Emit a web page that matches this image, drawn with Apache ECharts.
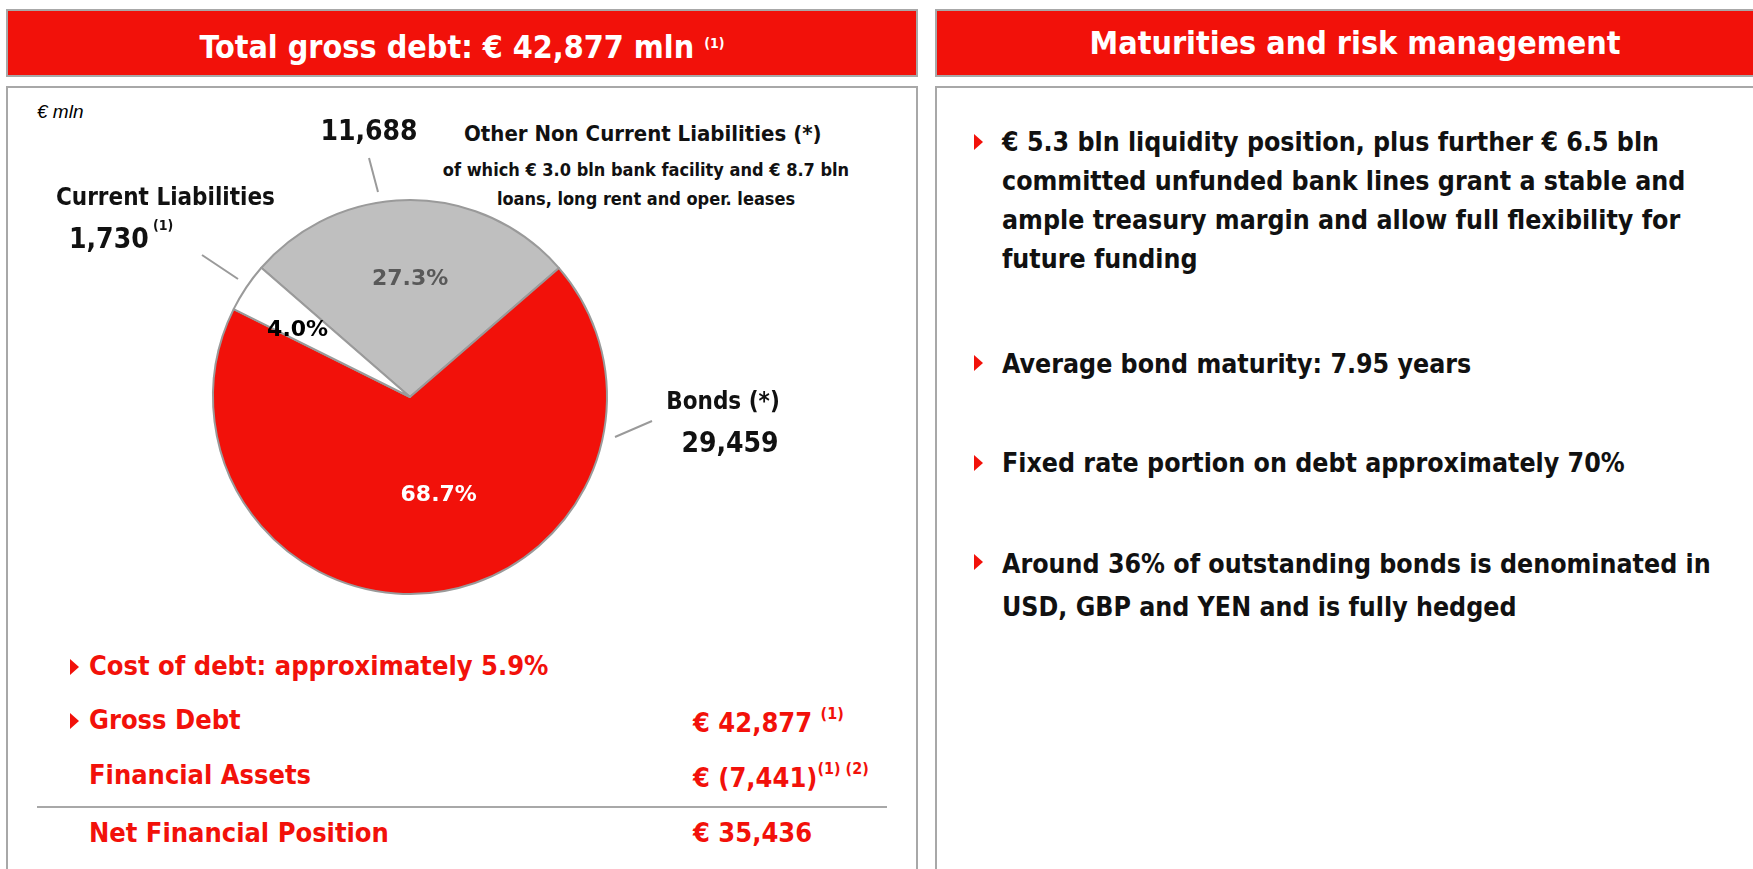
<!DOCTYPE html>
<html>
<head>
<meta charset="utf-8">
<script src="https://cdn.jsdelivr.net/npm/echarts@6/dist/echarts.min.js"></script>
<style>
  html, body { margin: 0; padding: 0; background: #fff; }
  body { width: 1753px; height: 869px; position: relative; overflow: hidden;
         font-family: "DejaVu Sans Condensed", "DejaVu Sans", sans-serif; font-weight: bold; }
  .hdr { position: absolute; background: #f2110a; border: 2px solid #a8a8a8; color: #fff;
         font-size: 32px; text-align: center; line-height: 64px; box-sizing: border-box; }
  .hdr sup { font-size: 14px; vertical-align: 10px; }
  .box { position: absolute; border: 2px solid #a8a8a8; box-sizing: border-box; }
  .t { position: absolute; white-space: nowrap; }
  .tri { position: absolute; width: 0; height: 0; border-top: 8px solid transparent;
         border-bottom: 8px solid transparent; border-left: 9px solid #f2110a; }
  .red { color: #f2110a; font-size: 27px; }
  .red sup { font-size: 16px; vertical-align: 13px; }
  .blk { color: #111; font-size: 26.5px; }
  #chart { position: absolute; left: 0; top: 0; width: 1753px; height: 869px; }
</style>
</head>
<body>
<div class="hdr" style="left:6px;top:9px;width:912px;height:68px;">Total gross debt: € 42,877 mln <sup>(1)</sup></div>
<div class="box" style="left:6px;top:86px;width:912px;height:800px;"></div>
<div class="hdr" style="left:935px;top:9px;width:840px;height:68px;">Maturities and risk management</div>
<div class="box" style="left:935px;top:86px;width:840px;height:800px;"></div>

<div class="t" style="left:37px;top:101px;font-size:19px;font-style:italic;font-weight:normal;font-family:'Liberation Sans','DejaVu Sans',sans-serif;">€ mln</div>
<div class="t" style="left:464px;top:121px;font-size:22px;color:#111;">Other Non Current Liabilities (*)</div>
<div class="t" style="left:440px;top:155px;width:412px;text-align:center;font-size:18px;color:#111;line-height:29px;">of which € 3.0 bln bank facility and € 8.7 bln<br>loans, long rent and oper. leases</div>

<div class="tri" style="left:70px;top:659px;"></div>
<div class="t red" style="left:89px;top:650px;">Cost of debt: approximately 5.9%</div>
<div class="tri" style="left:70px;top:713px;"></div>
<div class="t red" style="left:89px;top:704px;">Gross Debt</div>
<div class="t red" style="left:693px;top:704px;">€ 42,877 <sup>(1)</sup></div>
<div class="t red" style="left:89px;top:759px;">Financial Assets</div>
<div class="t red" style="left:693px;top:759px;">€ (7,441)<sup>(1) (2)</sup></div>
<div style="position:absolute;left:37px;top:806px;width:850px;height:2px;background:#a8a8a8;"></div>
<div class="t red" style="left:89px;top:817px;">Net Financial Position</div>
<div class="t red" style="left:693px;top:817px;">€ 35,436</div>

<div class="tri" style="left:974px;top:134px;"></div>
<div class="t blk" style="left:1002px;top:122px;line-height:39px;">€ 5.3 bln liquidity position, plus further € 6.5 bln<br>committed unfunded bank lines grant a stable and<br>ample treasury margin and allow full flexibility for<br>future funding</div>
<div class="tri" style="left:974px;top:355px;"></div>
<div class="t blk" style="left:1002px;top:344px;line-height:39px;">Average bond maturity: 7.95 years</div>
<div class="tri" style="left:974px;top:455px;"></div>
<div class="t blk" style="left:1002px;top:443px;line-height:39px;">Fixed rate portion on debt approximately 70%</div>
<div class="tri" style="left:974px;top:554px;"></div>
<div class="t blk" style="left:1002px;top:542px;line-height:43px;">Around 36% of outstanding bonds is denominated in<br>USD, GBP and YEN and is fully hedged</div>

<div id="chart"></div>
<script>
// € mln
const sliceNames = ['Other Non Current Liabilities', 'Bonds', 'Current Liabilities'];
const sliceValues = [11688, 29459, 1730];
const sliceLabels = ['11,688', '29,459', '1,730'];

const sliceColors = ['#bfbfbf', '#f2110a', '#ffffff'];
const pctColors = ['#595959', '#ffffff', '#000000'];
const centerXY = [410, 397];
const R = 197;
const FONT = '"DejaVu Sans Condensed", "DejaVu Sans", sans-serif';

const myChart = echarts.init(document.getElementById('chart'), null, { renderer: 'canvas' });

const data = sliceNames.map((n, i) => ({
  name: n,
  value: sliceValues[i],
  itemStyle: { color: sliceColors[i] },
  label: { color: pctColors[i] }
}));

// little nudges so the % labels sit where the slide has them
const pctShift = [[0, -16], [16, -2], [-28, -10]];
// outside labels: position, align, leader line (slice end first)
const outLayout = [
  { x: 369, y: 133, align: 'center', line: [[378, 192], [369, 158]] },
  { x: 723, y: 425, align: 'center', line: [[615, 437], [652, 421]] },
  { x: 56, y: 221, align: 'left', line: [[238, 279], [202, 255]] }
];

const option = {
  animation: false,
  series: [
    {
      type: 'pie',
      center: centerXY,
      radius: R,
      startAngle: 139,
      clockwise: true,
      silent: true,
      data: data,
      itemStyle: { borderColor: '#9a9a9a', borderWidth: 2 },
      label: {
        position: 'inside',
        fontFamily: 'DejaVu Sans',
        fontWeight: 'bold',
        fontSize: 22,
        formatter: p => p.percent.toFixed(1) + '%'
      },
      labelLine: { show: false },
      labelLayout: p => ({ dx: pctShift[p.dataIndex][0], dy: pctShift[p.dataIndex][1] })
    },
    {
      type: 'pie',
      center: centerXY,
      radius: R,
      startAngle: 139,
      clockwise: true,
      silent: true,
      data: sliceNames.map((n, i) => ({ name: n, value: sliceValues[i] })),
      itemStyle: { color: 'transparent', borderWidth: 0 },
      label: {
        position: 'outside',
        overflow: 'none',
        color: '#111',
        fontFamily: FONT,
        fontWeight: 'bold',
        formatter: p => {
          const i = p.dataIndex;
          if (i === 0) return '{n|' + sliceLabels[i] + '}';
          if (i === 1) return '{t|Bonds (*)}\n{b|' + sliceLabels[i] + '}';
          return '{t|Current Liabilities}\n{m|' + sliceLabels[i] + '}{s| (1)}';
        },
        rich: {
          n: { fontSize: 28, fontWeight: 'bold', fontFamily: FONT, lineHeight: 44, color: '#111' },
          b: { fontSize: 28, fontWeight: 'bold', fontFamily: FONT, lineHeight: 44, color: '#111', padding: [0, 0, 0, 14] },
          m: { fontSize: 28, fontWeight: 'bold', fontFamily: FONT, lineHeight: 44, color: '#111', padding: [0, 0, 0, 13] },
          t: { fontSize: 24, fontWeight: 'bold', fontFamily: FONT, lineHeight: 40, color: '#111' },
          s: { fontSize: 14, fontWeight: 'bold', fontFamily: FONT, color: '#111', verticalAlign: 'top', padding: [0, 0, 12, 0] }
        }
      },
      labelLine: { show: true, lineStyle: { color: '#9a9a9a', width: 2 } },
      labelLayout: p => {
        const o = outLayout[p.dataIndex];
        const a = o.line[0], b = o.line[1];
        return {
          x: o.x, y: o.y, align: o.align, verticalAlign: 'middle',
          labelLinePoints: [a, [(a[0] + b[0]) / 2, (a[1] + b[1]) / 2], b]
        };
      }
    }
  ]
};

myChart.setOption(option);
window.onresize = () => {
  myChart.resize();
};
</script>
</body>
</html>
